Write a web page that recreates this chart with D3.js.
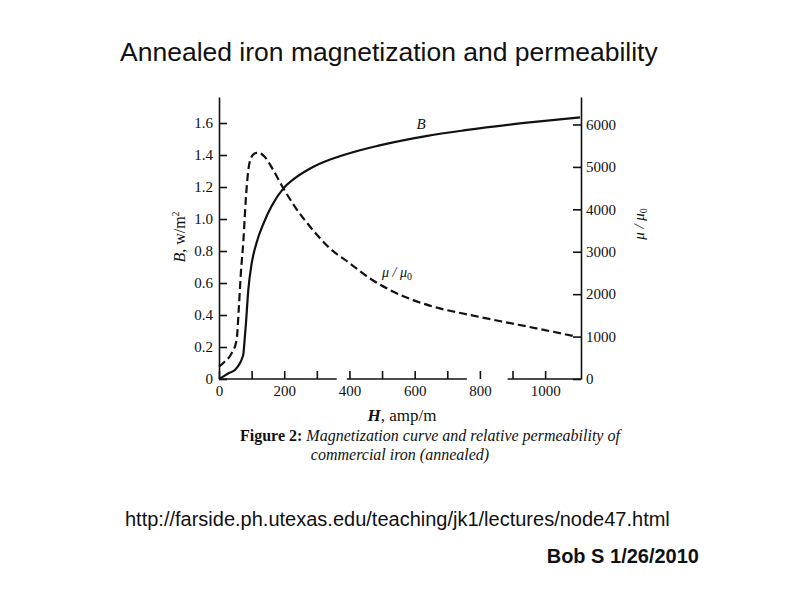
<!DOCTYPE html>
<html>
<head>
<meta charset="utf-8">
<script src="https://cdn.jsdelivr.net/npm/d3@7"></script>
<style>
  body { margin: 0; background: #fff; }
  svg text { fill: #111; }
  .axis text { font-family: "Liberation Serif", "DejaVu Serif", serif; font-size: 15px; }
  .axis line, .axis path { stroke: #111; stroke-width: 1.6; }
</style>
</head>
<body>
<div class="stage"></div>
<script>
// magnetization curve B(H)
var hB = [0, 15, 29, 49, 64, 70, 75, 78, 82, 90, 100, 115, 136, 161, 197, 233, 288, 390, 492, 639, 756, 960, 1107]
var bVals = [0, 0.018, 0.036, 0.056, 0.098, 0.125, 0.16, 0.23, 0.33, 0.56, 0.72, 0.85, 0.97, 1.08, 1.19, 1.255, 1.325, 1.405, 1.46, 1.52, 1.555, 1.605, 1.635]

// relative permeability mu/mu0
var hMu = [0, 18, 39, 54, 61, 67, 75, 82, 90, 100, 108, 120, 140, 166, 197, 233, 288, 340, 401, 462, 524, 595, 677, 769, 871, 973, 1085]
var muVals = [290, 410, 610, 920, 1700, 2490, 3280, 4220, 4930, 5240, 5310, 5335, 5240, 4930, 4500, 4060, 3510, 3080, 2730, 2375, 2100, 1860, 1665, 1510, 1350, 1195, 1015]

var hTicks = [0, 100, 200, 300, 400, 500, 600, 700, 800, 900, 1000]
var bTicks = [0, 0.2, 0.4, 0.6, 0.8, 1.0, 1.2, 1.4, 1.6]
var muTicks = [0, 1000, 2000, 3000, 4000, 5000, 6000]
// breaks in the scanned H axis line (amp/m)
var hGaps = [[361, 392], [760, 885]]

var W = 800, H = 600

var svg = d3.select(".stage")
  .append("svg")
  .attr("width", W)
  .attr("height", H)

var x = d3.scaleLinear().domain([0, 1110]).range([219, 581])
var yB = d3.scaleLinear().domain([0, 1.7625]).range([379, 97])
var yMu = d3.scaleLinear().domain([0, 6648]).range([379, 97])

// title and footer
svg.append("text")
  .attr("x", 120).attr("y", 61)
  .style("font-family", "Liberation Sans, Arial, sans-serif")
  .style("font-size", "26.5px")
  .text("Annealed iron magnetization and permeability")

svg.append("text")
  .attr("x", 125).attr("y", 526)
  .style("font-family", "Liberation Sans, Arial, sans-serif")
  .style("font-size", "20px")
  .text("http://farside.ph.utexas.edu/teaching/jk1/lectures/node47.html")

svg.append("text")
  .attr("x", 699).attr("y", 563)
  .attr("text-anchor", "end")
  .style("font-family", "Liberation Sans, Arial, sans-serif")
  .style("font-size", "20px")
  .style("font-weight", "bold")
  .text("Bob S 1/26/2010")

// axes
var bottom = svg.append("g")
  .attr("class", "axis")
  .attr("transform", "translate(0,379)")
  .call(d3.axisBottom(x)
    .tickValues(hTicks)
    .tickSizeInner(-8)
    .tickSizeOuter(0)
    .tickPadding(6)
    .tickFormat(function(d){ return d % 200 === 0 ? d : "" }))
bottom.select(".domain").remove()

var segs = []
var start = 0
hGaps.forEach(function(g){
  segs.push([start, g[0]])
  start = g[1]
})
segs.push([start, 1110])
bottom.selectAll("line.seg")
  .data(segs)
  .enter().append("line")
  .attr("class", "seg")
  .attr("x1", function(d){ return x(d[0]) })
  .attr("x2", function(d){ return x(d[1]) })
  .attr("y1", 0).attr("y2", 0)

svg.append("g")
  .attr("class", "axis")
  .attr("transform", "translate(219,0)")
  .call(d3.axisLeft(yB)
    .tickValues(bTicks)
    .tickSizeInner(-8)
    .tickSizeOuter(0)
    .tickPadding(6)
    .tickFormat(function(d){ return d === 0 ? "0" : d.toFixed(1) }))

svg.append("g")
  .attr("class", "axis")
  .attr("transform", "translate(581,0)")
  .call(d3.axisRight(yMu)
    .tickValues(muTicks)
    .tickSizeInner(-8)
    .tickSizeOuter(0)
    .tickPadding(5)
    .tickFormat(d3.format("d")))

// curves
var lineB = d3.line()
  .x(function(d, i){ return x(hB[i]) })
  .y(function(d){ return yB(d) })
  .curve(d3.curveMonotoneX)

var lineMu = d3.line()
  .x(function(d, i){ return x(hMu[i]) })
  .y(function(d){ return yMu(d) })
  .curve(d3.curveMonotoneX)

svg.append("path")
  .datum(bVals)
  .attr("d", lineB)
  .style("fill", "none")
  .style("stroke", "#111")
  .style("stroke-width", 2.2)

svg.append("path")
  .datum(muVals)
  .attr("d", lineMu)
  .style("fill", "none")
  .style("stroke", "#111")
  .style("stroke-width", 2.2)
  .style("stroke-dasharray", "8,4")

// curve labels
var serif = "Liberation Serif, DejaVu Serif, serif"

svg.append("text")
  .attr("x", 421).attr("y", 129)
  .attr("text-anchor", "middle")
  .style("font-family", serif)
  .style("font-style", "italic")
  .style("font-size", "15px")
  .text("B")

var muLabel = svg.append("text")
  .attr("x", 397).attr("y", 277)
  .attr("text-anchor", "middle")
  .style("font-family", serif)
  .style("font-style", "italic")
  .style("font-size", "14px")
muLabel.append("tspan").text("μ / μ")
muLabel.append("tspan").attr("dy", 3).style("font-size", "10px").style("font-style", "normal").text("0")

// axis titles
var bTitle = svg.append("text")
  .attr("transform", "translate(185,237) rotate(-90)")
  .attr("text-anchor", "middle")
  .style("font-family", serif)
  .style("font-size", "16px")
bTitle.append("tspan").style("font-style", "italic").text("B")
bTitle.append("tspan").text(", w/m")
bTitle.append("tspan").attr("dy", -6).style("font-size", "10px").text("2")

var muTitle = svg.append("text")
  .attr("transform", "translate(644,224) rotate(-90)")
  .attr("text-anchor", "middle")
  .style("font-family", serif)
  .style("font-size", "15px")
muTitle.append("tspan").style("font-style", "italic").text("μ / μ")
muTitle.append("tspan").attr("dy", 3).style("font-size", "10px").text("0")

var hTitle = svg.append("text")
  .attr("x", 402).attr("y", 421)
  .attr("text-anchor", "middle")
  .style("font-family", serif)
  .style("font-size", "17px")
hTitle.append("tspan").style("font-style", "italic").style("font-weight", "bold").text("H")
hTitle.append("tspan").text(", amp/m")

// figure caption
var cap1 = svg.append("text")
  .attr("x", 240).attr("y", 441)
  .style("font-family", serif)
  .style("font-size", "16px")
cap1.append("tspan").style("font-weight", "bold").text("Figure 2: ")
cap1.append("tspan").style("font-style", "italic").text("Magnetization curve and relative permeability of")

svg.append("text")
  .attr("x", 400).attr("y", 460)
  .attr("text-anchor", "middle")
  .style("font-family", serif)
  .style("font-size", "16px")
  .style("font-style", "italic")
  .text("commercial iron (annealed)")
</script>
</body>
</html>
